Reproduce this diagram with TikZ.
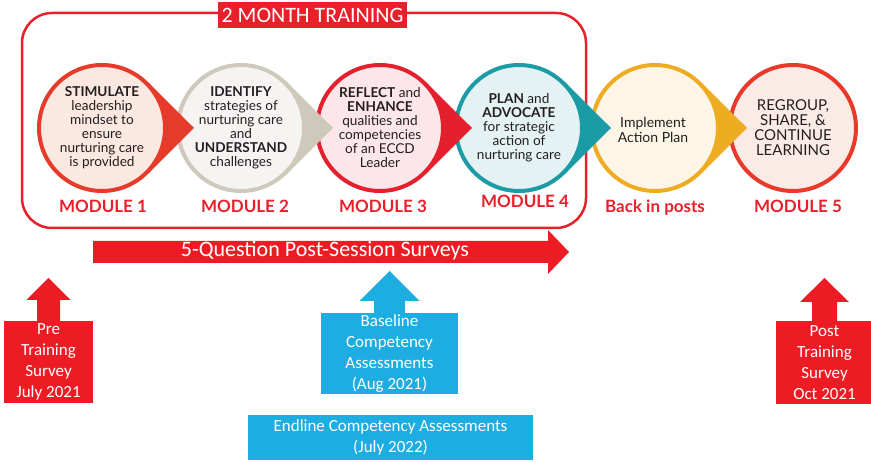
\documentclass[tikz,border=0pt]{standalone}
\usepackage{fontspec}
\setmainfont{Carlito}
\newfontfamily\gillfont{Lato}
\usetikzlibrary{positioning,calc}

\definecolor{trainred}{HTML}{E8202A}
\definecolor{boxred}{HTML}{ED1C24}
\definecolor{skyblue}{HTML}{1EADE1}
\definecolor{inktext}{HTML}{231F20}
\definecolor{stimline}{HTML}{E63B2A}
\definecolor{stimfill}{HTML}{FBE8E1}
\definecolor{idenline}{HTML}{CFC9BC}
\definecolor{idenfill}{HTML}{F5F4F2}
\definecolor{reflline}{HTML}{E5202E}
\definecolor{reflfill}{HTML}{FCE6E9}
\definecolor{planline}{HTML}{1A9BA6}
\definecolor{planfill}{HTML}{E4F2F4}
\definecolor{implline}{HTML}{EEAC22}
\definecolor{implfill}{HTML}{FDF6E6}
\definecolor{regrline}{HTML}{E8392A}
\definecolor{regrfill}{HTML}{FBEBE6}

% up arrow standing on the top side of a box node
\newcommand\uparr[5]{%
  \fill ($(#1.north)+(-#2,0.5)$) -- ($(#1.north)+(-#2,-#4)$) -- ($(#1.north)+(-#3,-#4)$)
     -- ($(#1.north)+(0,-#4-#5)$) -- ($(#1.north)+(#3,-#4)$) -- ($(#1.north)+(#2,-#4)$)
     -- ($(#1.north)+(#2,0.5)$) -- cycle;}

\tikzset{
  modcircle/.style={circle, minimum size=126pt, line width=4pt, inner sep=0pt},
  circtext/.style={align=center, text=inktext, inner sep=0pt,
    font=\gillfont\fontsize{13.6}{14}\selectfont},
  modlabel/.style={text=trainred, inner sep=0pt, text height=12pt, text depth=3pt,
    font=\gillfont\bfseries\fontsize{17}{18}\selectfont},
  surveybox/.style={fill=#1, text=white, align=center, inner sep=0pt, outer sep=0pt,
    font=\fontsize{17}{21}\selectfont},
}

\begin{document}
\begin{tikzpicture}[x=1pt,y=-1pt]
  \useasboundingbox (0,0) rectangle (871,462);

  % training frame
  \draw[trainred, line width=2.5pt, rounded corners=30pt] (22,13) rectangle (586,228);
  \node[fill=trainred, text=white, minimum width=189pt, minimum height=26pt, inner sep=0pt,
    font=\fontsize{22}{22}\selectfont] (title) at (312.5,15) {2 MONTH TRAINING};

  % module circles, drawn right to left so each tip lies on the next circle
  \node[modcircle, draw=regrline, fill=regrfill] (m6) at (793,128) {};
  \foreach \i/\x/\lc/\fc in {5/655/implline/implfill,4/519/planline/planfill,
      3/380/reflline/reflfill,2/241/idenline/idenfill,1/102/stimline/stimfill}
    {\coordinate (c\i) at (\x,128);
     \fill[\lc] ($(c\i)+(45:65)$) -- ($(c\i)+(92,0)$) -- ($(c\i)+(-45:65)$) -- cycle;
     \node[modcircle, draw=\lc, fill=\fc] (m\i) at (c\i) {};
    }

  \node[circtext] (t1) at (m1) {\textbf{STIMULATE}\\leadership\\mindset to\\ensure\\nurturing care\\is provided};
  \node[circtext] (t2) at (m2) {\textbf{IDENTIFY}\\strategies of\\nurturing care\\and\\\textbf{UNDERSTAND}\\challenges};
  \node[circtext] (t3) at (m3) {\textbf{REFLECT} and\\\textbf{ENHANCE}\\qualities and\\competencies\\of an ECCD\\Leader};
  \node[circtext] (t4) at (m4) {\textbf{PLAN} and\\\textbf{ADVOCATE}\\for strategic\\action of\\nurturing care};
  \node[circtext, font=\gillfont\fontsize{14}{15}\selectfont] (t5) at ($(m5)+(-2,2)$) {Implement\\Action Plan};
  \node[circtext, font=\gillfont\fontsize{15}{15}\selectfont] (t6) at (m6) {REGROUP,\\SHARE, \&\\CONTINUE\\LEARNING};

  \node[modlabel] (l1) at (103,208) {MODULE 1};
  \node[modlabel] (l2) at (245,208) {MODULE 2};
  \node[modlabel] (l3) at (383,208) {MODULE 3};
  \node[modlabel] (l4) at (525,203) {MODULE 4};
  \node[modlabel] (l5) at (655,208) {Back in posts};
  \node[modlabel] (l6) at (798,208) {MODULE 5};

  % post-session survey arrow
  \fill[boxred] (93,241) -- (548,241) -- (548,230) -- (569,252) -- (548,274) -- (548,263) -- (93,263) -- cycle;
  \node[text=white, inner sep=0pt, font=\fontsize{22}{22}\selectfont] (surv) at (325,251) {5-Question Post-Session Surveys};

  % surveys and assessments
  \node[surveybox=boxred, minimum width=89pt, minimum height=82pt] (pre) at (48.5,362) {Pre\\Training\\Survey\\July 2021};
  \node[surveybox=boxred, minimum width=97pt, minimum height=83pt] (post) at (824.5,362.5) {Post\\Training\\Survey\\Oct 2021};
  \node[surveybox=skyblue, minimum width=137pt, minimum height=81pt] (base) at (389.5,353.5) {Baseline\\Competency\\Assessments\\(Aug 2021)};
  \node[surveybox=skyblue, minimum width=285pt, minimum height=45pt] (end) at (390.5,437.5) {Endline Competency Assessments\\(July 2022)};

  \begin{scope}[boxred]
    \uparr{pre}{11.5}{22}{21}{22}
    \uparr{post}{12.5}{24.5}{19}{24}
  \end{scope}
  \begin{scope}[skyblue]
    \uparr{base}{15.5}{30}{12}{30}
  \end{scope}
\end{tikzpicture}
\end{document}
